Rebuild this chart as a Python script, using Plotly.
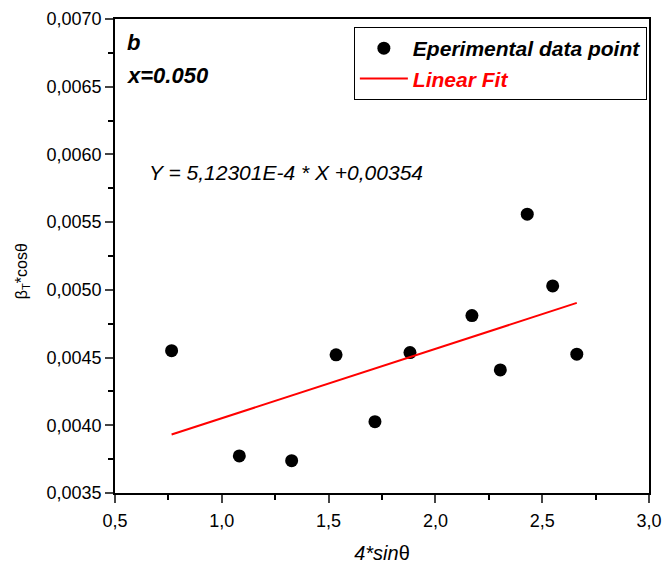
import plotly.graph_objects as go

x_data = [0.765, 1.082, 1.327, 1.535, 1.717, 1.881, 2.171, 2.304, 2.430, 2.549, 2.662]
y_data = [0.004551, 0.003774, 0.003739, 0.004520, 0.004027, 0.004537, 0.004810, 0.004409, 0.005559, 0.005029, 0.004525]
slope = 5.12301e-4
intercept = 0.00354
fit_x = [min(x_data), max(x_data)]
fit_y = [slope * v + intercept for v in fit_x]

FONT = "Liberation Sans, Arial, sans-serif"

fig = go.Figure()
fig.add_trace(go.Scatter(
    x=x_data, y=y_data, mode="markers",
    marker=dict(color="black", size=13),
    name="<b><i>Eperimental data point</i></b>",
))
fig.add_trace(go.Scatter(
    x=fit_x, y=fit_y, mode="lines",
    line=dict(color="#ff0000", width=2),
    name="<span style='color:#ff0000'><b><i>Linear Fit</i></b></span>",
))

fig.update_layout(
    width=668, height=568,
    margin=dict(l=115, r=19, t=19, b=75),
    paper_bgcolor="white", plot_bgcolor="white",
    font=dict(family=FONT, color="black", size=16),
    showlegend=True,
    legend=dict(
        x=0.996, xanchor="right", y=0.983, yanchor="top",
        bordercolor="black", borderwidth=1, bgcolor="white",
        font=dict(family=FONT, size=21, color="black"),
        tracegroupgap=0, itemwidth=48,
    ),
    xaxis=dict(
        range=[0.5, 3.0], tickvals=[0.5, 1.0, 1.5, 2.0, 2.5, 3.0],
        tickformat=".1f", ticks="outside", ticklen=8, tickwidth=1.5,
        showline=True, linecolor="black", linewidth=1.5, mirror=True,
        showgrid=False, zeroline=False, automargin=False,
        minor=dict(dtick=0.25, ticks="outside", ticklen=5, tickcolor="black", showgrid=False),
        tickfont=dict(size=18), ticklabelstandoff=3,
        title=dict(text="<i>4*sin</i>θ", font=dict(size=20), standoff=16),
    ),
    yaxis=dict(
        range=[0.0035, 0.0070], tickvals=[0.0035, 0.0040, 0.0045, 0.0050, 0.0055, 0.0060, 0.0065, 0.0070],
        tickformat=".4f", ticks="outside", ticklen=8, tickwidth=1.5,
        showline=True, linecolor="black", linewidth=1.5, mirror=True,
        showgrid=False, zeroline=False, automargin=False,
        minor=dict(dtick=0.00025, ticks="outside", ticklen=5, tickcolor="black", showgrid=False),
        tickfont=dict(size=18),
    ),
    separators=",.",
)

fig.add_annotation(xref="paper", yref="paper", x=-0.174, y=0.468, xanchor="center", yanchor="middle",
                   text="β<sub>T</sub>*cosθ", textangle=-90, showarrow=False,
                   font=dict(size=16, family=FONT))
fig.add_annotation(xref="paper", yref="paper", x=0.018, y=0.95, xanchor="left", yanchor="middle",
                   text="<b><i>b</i></b>", showarrow=False, font=dict(size=22, family=FONT))
fig.add_annotation(xref="paper", yref="paper", x=0.018, y=0.88, xanchor="left", yanchor="middle",
                   text="<b><i>x=0.050</i></b>", showarrow=False, font=dict(size=22, family=FONT))
fig.add_annotation(xref="paper", yref="paper", x=0.06, y=0.677, xanchor="left", yanchor="middle",
                   text="<i>Y = 5,12301E-4 * X +0,00354</i>", showarrow=False, font=dict(size=21, family=FONT))

fig.write_html("out.html")
